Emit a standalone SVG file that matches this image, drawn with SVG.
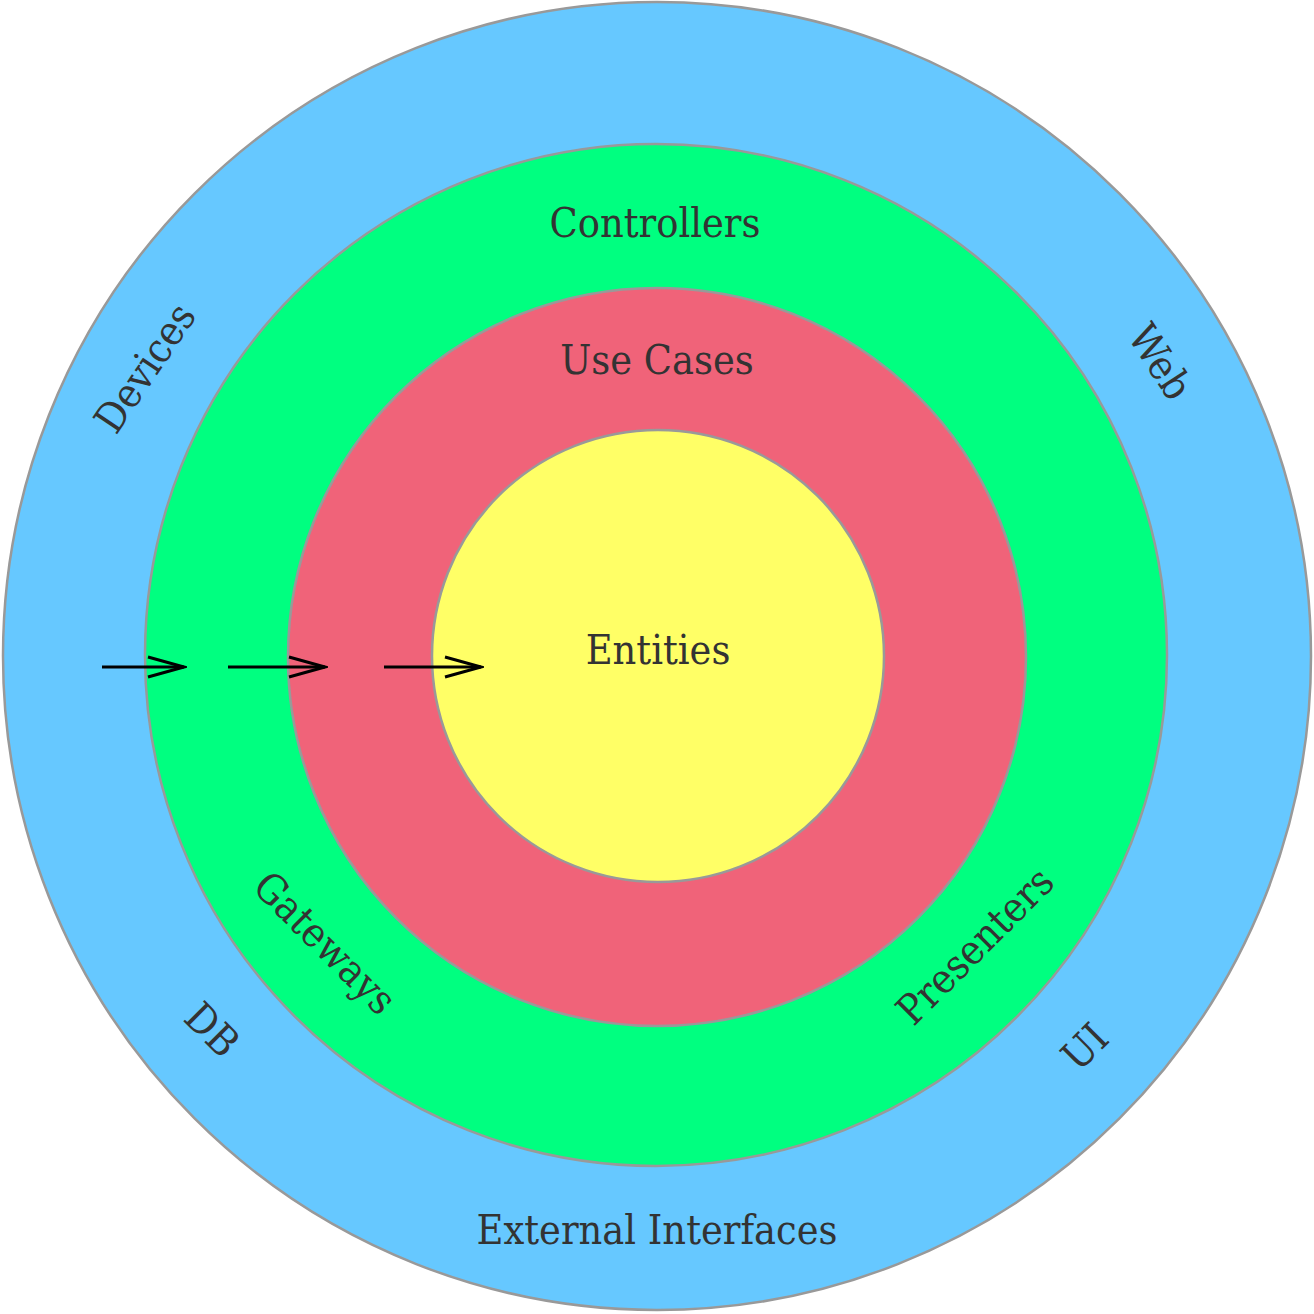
<svg xmlns="http://www.w3.org/2000/svg" width="1314" height="1314" viewBox="0 0 1314 1314">
<style>
.ring{stroke:#999999;stroke-width:2.5}
.lbl{font-family:"DejaVu Serif Condensed","DejaVu Serif","Liberation Serif",serif;font-size:41px;fill:#333333;text-anchor:middle}
.rot{dominant-baseline:central}
.arr{stroke:#000;stroke-width:3;fill:none}
</style>
<defs>
<marker id="chev" markerUnits="userSpaceOnUse" markerWidth="40" markerHeight="26" refX="37" refY="12" orient="auto" viewBox="0 0 40 26">
<path d="M1,2 L37,12 L1,22" fill="none" stroke="#000" stroke-width="3"/>
</marker>
</defs>
<rect width="1314" height="1314" fill="#ffffff"/>
<g id="external-interfaces">
<circle class="ring" cx="657" cy="656" r="654" fill="#66c8ff"/>
<text class="lbl" x="657" y="1244">External Interfaces</text>
<text class="lbl rot" transform="translate(145,368) rotate(-56)">Devices</text>
<text class="lbl rot" transform="translate(1160,362) rotate(57)">Web</text>
<text class="lbl rot" transform="translate(212,1030) rotate(45)">DB</text>
<text class="lbl rot" transform="translate(1085,1047) rotate(-45)">UI</text>
</g>
<g id="controllers">
<circle class="ring" cx="656" cy="655" r="511" fill="#00ff80"/>
<text class="lbl" x="655" y="237">Controllers</text>
<text class="lbl rot" transform="translate(325,943) rotate(45)">Gateways</text>
<text class="lbl rot" transform="translate(975,946) rotate(-45)">Presenters</text>
</g>
<g id="use-cases">
<circle class="ring" cx="657" cy="657" r="369" fill="#f06379"/>
<text class="lbl" x="657" y="374">Use Cases</text>
</g>
<g id="entities">
<circle class="ring" cx="658" cy="656" r="226" fill="#ffff66"/>
<text class="lbl" x="658" y="664">Entities</text>
</g>
<g id="connectors">
<line class="arr" x1="102" y1="667" x2="184" y2="667" marker-end="url(#chev)"/>
<line class="arr" x1="228" y1="667" x2="325" y2="667" marker-end="url(#chev)"/>
<line class="arr" x1="384" y1="667" x2="481" y2="667" marker-end="url(#chev)"/>
</g>
</svg>
